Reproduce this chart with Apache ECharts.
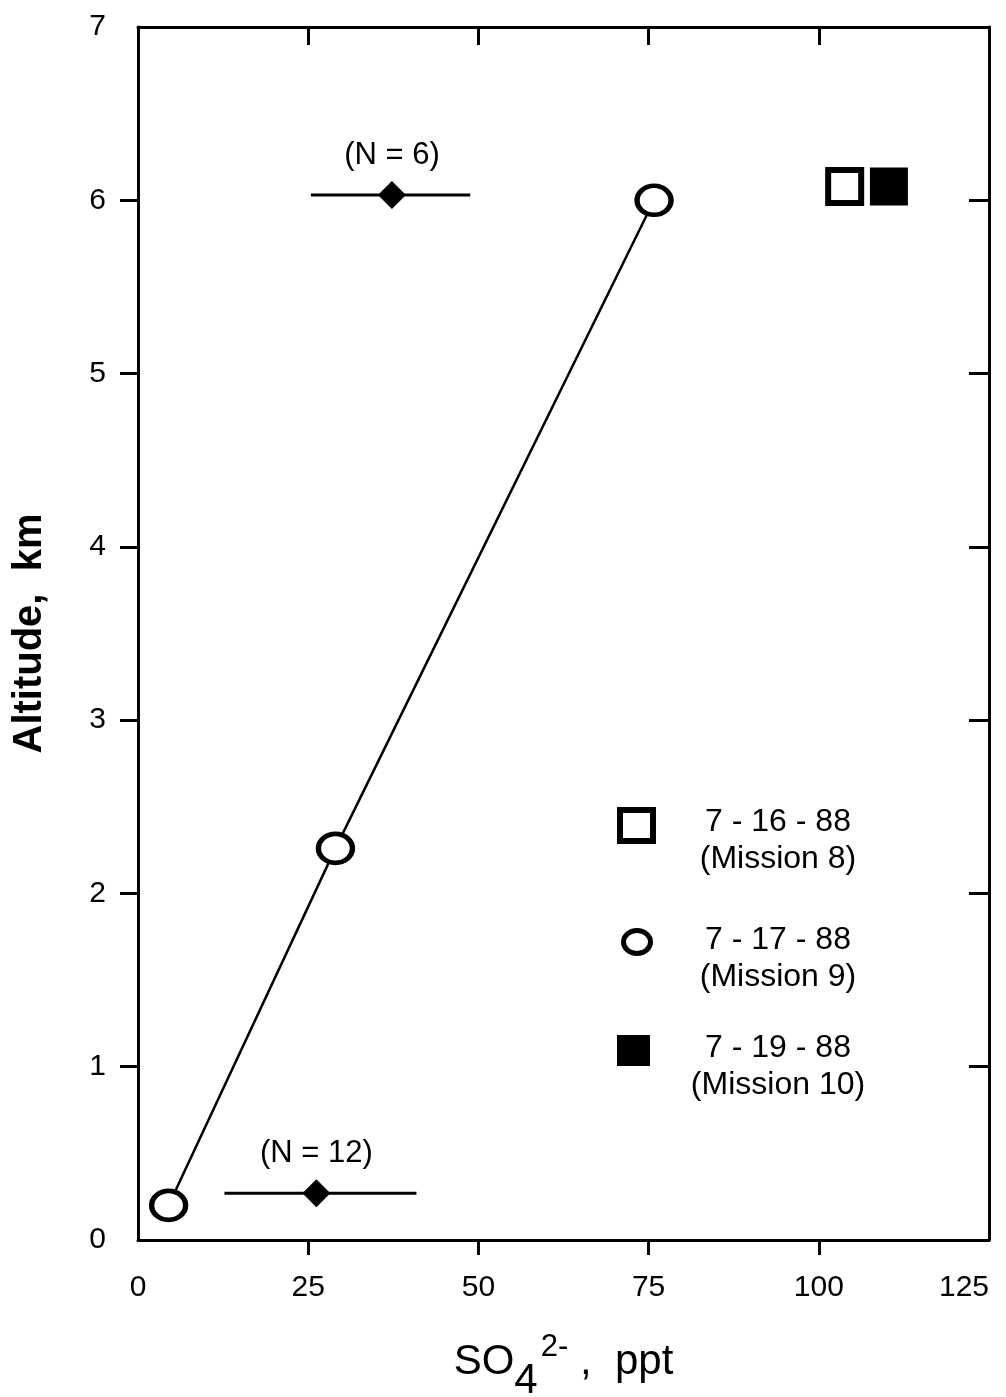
<!DOCTYPE html>
<html>
<head>
<meta charset="utf-8">
<script src="https://cdn.jsdelivr.net/npm/echarts@6.0.0/dist/echarts.min.js"></script>
<style>
  html, body { margin: 0; padding: 0; background: #fff; }
  #chart { width: 1006px; height: 1397px; }
</style>
</head>
<body>
<div id="chart"></div>
<script>
// x = SO4 2- (ppt), y = altitude (km)
const xTicks = [0, 25, 50, 75, 100, 125];
const yTicks = [0, 1, 2, 3, 4, 5, 6, 7];

// Mission 9 (7-17-88), open circles joined by a line
const mission9 = [[4.5, 0.2], [29, 2.26], [75.8, 6.0]];
// Mission 8 (7-16-88), open square
const mission8 = [[103.8, 6.08]];
// Mission 10 (7-19-88), filled square
const mission10 = [[110.3, 6.08]];
// mean values with range bars
const meanPts = [[37.3, 6.03], [26.2, 0.27]];
const meanLo = [25.4, 12.7];
const meanHi = [48.8, 40.9];
const meanN = ['(N = 6)', '(N = 12)'];

const font = '"Liberation Sans", Arial, Helvetica, sans-serif';
const chart = echarts.init(document.getElementById('chart'));

const axisLine = { show: true, onZero: false, lineStyle: { color: '#000', width: 3 } };

const option = {
  backgroundColor: '#fff',
  animation: false,
  grid: { left: 138, right: 17, top: 27, bottom: 157, outerBoundsMode: 'none', containLabel: false },
  xAxis: [
    {
      type: 'value', min: 0, max: 125, interval: 25,
      position: 'bottom',
      axisLine: axisLine,
      axisTick: { show: true, inside: false, length: 15, customValues: [25, 50, 75, 100],
        lineStyle: { color: '#000', width: 3 } },
      axisLabel: { customValues: xTicks, margin: 33, color: '#000', fontSize: 30, fontFamily: font,
        alignMaxLabel: 'right' },
      splitLine: { show: false },
      name: '{a|SO}{b|4}{c|2-}{a| ,  ppt}',
      nameLocation: 'middle',
      nameGap: 100,
      nameTextStyle: {
        rich: {
          a: { fontSize: 42, fontFamily: font, color: '#000', lineHeight: 44, verticalAlign: 'middle' },
          b: { fontSize: 42, fontFamily: font, color: '#000', lineHeight: 44, padding: [38, 0, 0, 0], verticalAlign: 'middle' },
          c: { fontSize: 31, fontFamily: font, color: '#000', lineHeight: 32, padding: [0, 0, 30, 3], verticalAlign: 'middle' }
        }
      }
    },
    {
      type: 'value', min: 0, max: 125, interval: 25,
      position: 'top',
      axisLine: axisLine,
      axisTick: { show: true, inside: true, length: 18, customValues: [25, 50, 75, 100],
        lineStyle: { color: '#000', width: 3 } },
      axisLabel: { show: false },
      splitLine: { show: false }
    }
  ],
  yAxis: [
    {
      type: 'value', min: 0, max: 7, interval: 1,
      position: 'left',
      axisLine: axisLine,
      axisTick: { show: true, inside: false, length: 18, customValues: [1, 2, 3, 4, 5, 6],
        lineStyle: { color: '#000', width: 3 } },
      axisLabel: { customValues: yTicks, margin: 32, color: '#000', fontSize: 30, fontFamily: font },
      splitLine: { show: false },
      name: 'Altitude,  km',
      nameLocation: 'middle',
      nameGap: 88,
      nameTextStyle: { fontSize: 40, fontWeight: 'bold', fontFamily: font, color: '#000' }
    },
    {
      type: 'value', min: 0, max: 7, interval: 1,
      position: 'right',
      axisLine: axisLine,
      axisTick: { show: true, inside: true, length: 20, customValues: [1, 2, 3, 4, 5, 6],
        lineStyle: { color: '#000', width: 3 } },
      axisLabel: { show: false },
      splitLine: { show: false }
    }
  ],
  series: [
    {
      name: 'Mission 9',
      type: 'line',
      data: mission9,
      symbol: 'circle',
      symbolSize: [34, 29],
      lineStyle: { color: '#000', width: 2.5 },
      itemStyle: { color: '#fff', borderColor: '#000', borderWidth: 5, opacity: 1 },
      z: 3
    },
    {
      name: 'Mission 8',
      type: 'scatter',
      data: mission8,
      symbol: 'rect',
      symbolSize: 33,
      itemStyle: { color: '#fff', borderColor: '#000', borderWidth: 6, opacity: 1 }
    },
    {
      name: 'Mission 10',
      type: 'scatter',
      data: mission10,
      symbol: 'rect',
      symbolSize: 38,
      itemStyle: { color: '#000', opacity: 1 }
    },
    {
      name: 'range',
      type: 'custom',
      data: meanPts.map((p, i) => [meanLo[i], meanHi[i], p[1]]),
      renderItem: function (params, api) {
        const a = api.coord([api.value(0), api.value(2)]);
        const b = api.coord([api.value(1), api.value(2)]);
        return {
          type: 'line',
          shape: { x1: a[0], y1: a[1], x2: b[0], y2: b[1] },
          style: { stroke: '#000', lineWidth: 3 }
        };
      },
      z: 2
    },
    {
      name: 'mean',
      type: 'scatter',
      data: meanPts.map((p, i) => ({ value: p, name: meanN[i] })),
      symbol: 'diamond',
      symbolSize: 28,
      itemStyle: { color: '#000', opacity: 1 },
      label: {
        show: true, position: 'top', distance: 10,
        formatter: p => p.name,
        color: '#000', opacity: 1, fontSize: 31, fontFamily: font
      },
      z: 4
    }
  ],
  graphic: [
    // legend
    { type: 'rect', shape: { x: 620, y: 810, width: 33, height: 31 },
      style: { fill: '#fff', stroke: '#000', lineWidth: 6 } },
    { type: 'text', x: 778, y: 841, style: { text: '7 - 16 - 88\n(Mission 8)', align: 'center', verticalAlign: 'middle',
      fontSize: 32, fontFamily: font, fill: '#000', lineHeight: 37 } },
    { type: 'ellipse', shape: { cx: 637, cy: 942, rx: 13.5, ry: 11.5 },
      style: { fill: '#fff', stroke: '#000', lineWidth: 5 } },
    { type: 'text', x: 778, y: 959, style: { text: '7 - 17 - 88\n(Mission 9)', align: 'center', verticalAlign: 'middle',
      fontSize: 32, fontFamily: font, fill: '#000', lineHeight: 37 } },
    { type: 'rect', shape: { x: 617, y: 1035, width: 33, height: 31 },
      style: { fill: '#000' } },
    { type: 'text', x: 778, y: 1067, style: { text: '7 - 19 - 88\n(Mission 10)', align: 'center', verticalAlign: 'middle',
      fontSize: 32, fontFamily: font, fill: '#000', lineHeight: 37 } }
  ]
};

chart.setOption(option);
</script>
</body>
</html>
